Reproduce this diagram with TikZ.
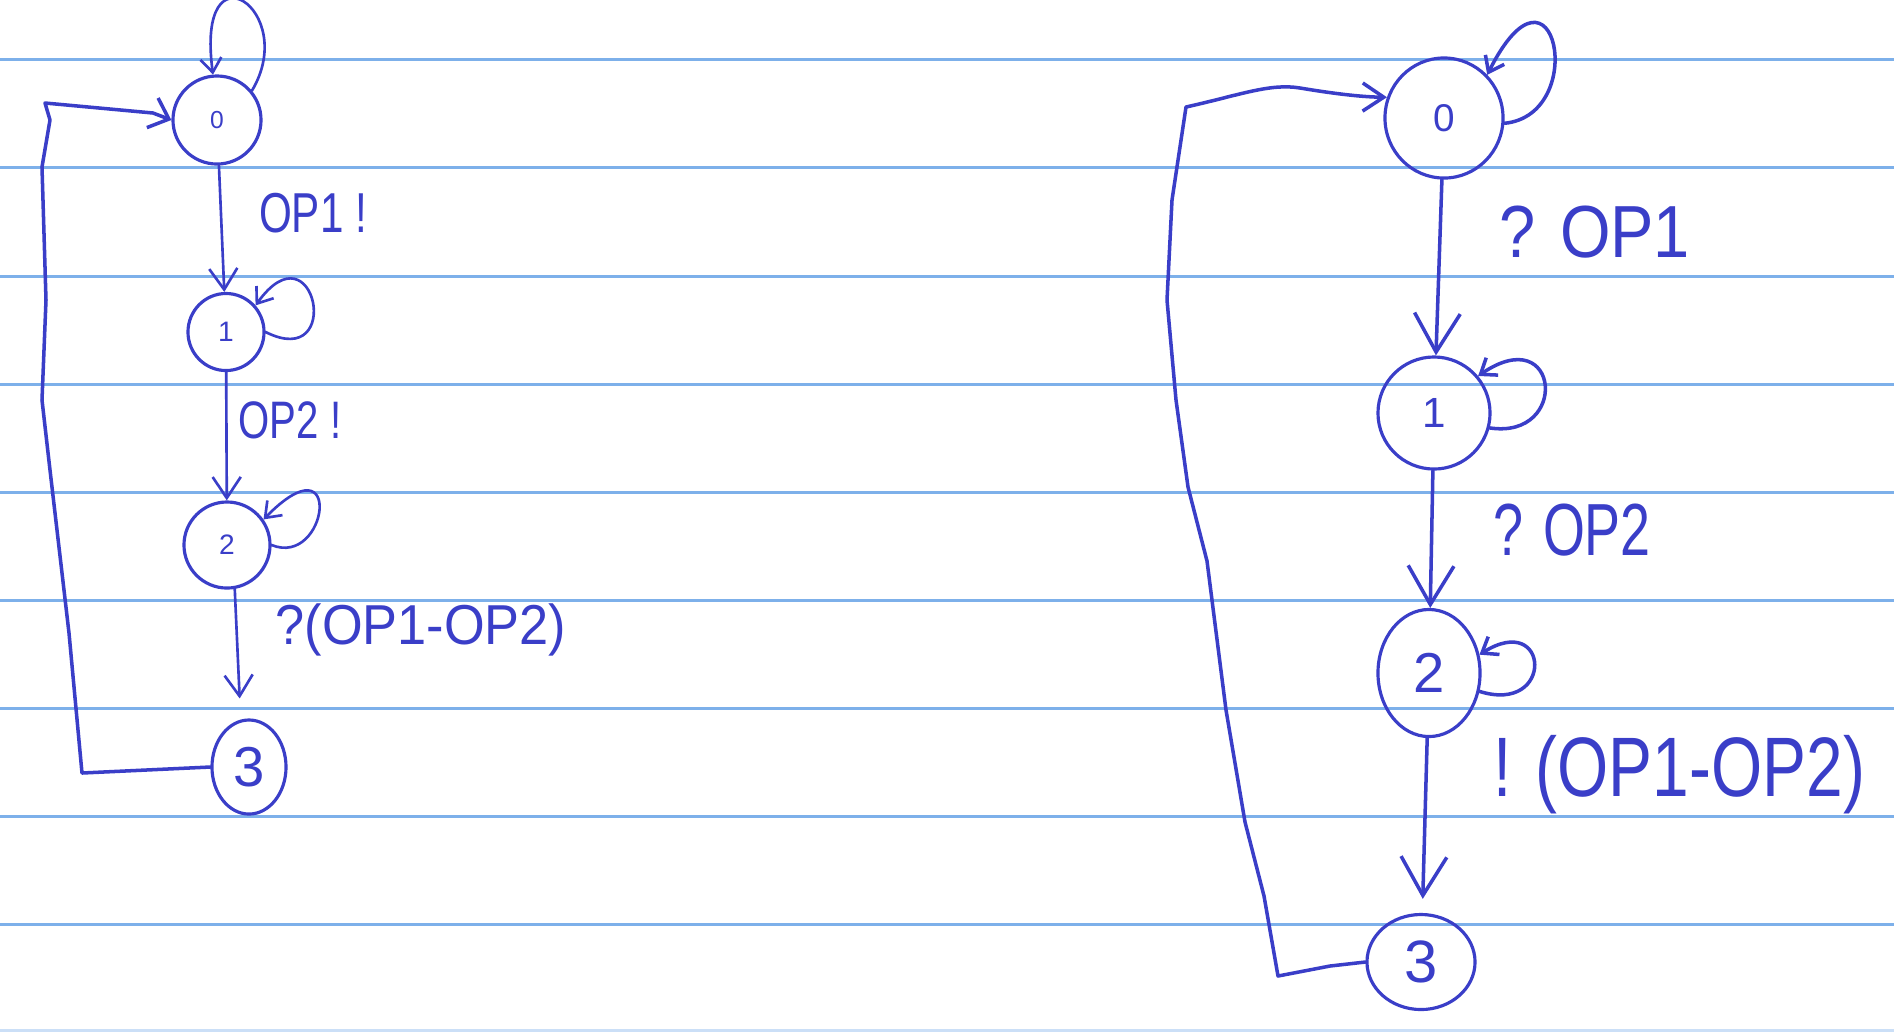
\documentclass[tikz,border=0pt]{standalone}
\usepackage{fontspec}
\setmainfont{Liberation Sans}
\usepackage{graphicx}
\usetikzlibrary{shapes.geometric,arrows.meta}
\definecolor{ink}{RGB}{58,62,200}
\definecolor{rulec}{RGB}{125,176,234}
\newcommand\myfs[1]{\fontsize{#1}{#1}\selectfont}
\begin{document}
\begin{tikzpicture}[x=0.01cm,y=-0.01cm,
  ruleline/.style={draw=rulec,line width=0.85pt},
  st/.style={ellipse,draw=ink,line width=0.9pt,inner sep=0pt,text=ink},
  thin ink/.style={draw=ink,line width=0.75pt,line join=round,line cap=round},
  thick ink/.style={draw=ink,line width=1.0pt,line join=round,line cap=round},
  lbl/.style={text=ink,inner sep=0pt},
  tipS/.style={-{Straight Barb[length=6pt,width=8pt]}},
  tipT/.style={-{Straight Barb[length=4pt,width=6pt]}},
  tipL/.style={-{Straight Barb[length=11pt,width=13pt]}}
]
\fill[white] (0,0) rectangle (1894,1032);
\useasboundingbox (0,0) rectangle (1894,1032);
\foreach \yy in {59,167,276,384,492,600,708,816,924}{\draw[ruleline] (0,\yy) -- (1894,\yy);}
\draw[ruleline,draw=rulec!40] (0,1030) -- (1894,1030);

% ---------- left machine ----------
\node[st,minimum width=0.88cm,minimum height=0.88cm,font=\myfs{7pt}] (l0) at (217,120) {0};
\node[st,minimum width=0.76cm,minimum height=0.77cm,font=\myfs{8pt}] (l1) at (226,332) {1};
\node[st,minimum width=0.86cm,minimum height=0.86cm,font=\myfs{8pt}] (l2) at (227,545) {2};
\node[st,minimum width=0.74cm,minimum height=0.94cm,font=\myfs{16pt}] (l3) at (249,767) {3};

\draw[thin ink,tipS] (l0) -- (l1);
\draw[thin ink,tipS] (l1) -- (l2);
\draw[thin ink,tipS,shorten >=6pt] (l2.-80) -- (l3.100);

\draw[thin ink,tipT] (l0.40) .. controls (300,10) and (195,-60) .. (l0.95);
\draw[thin ink,tipT] (l1.0) .. controls (345,372) and (315,222) .. (l1.42);
\draw[thin ink,tipT] (l2.0) .. controls (328,568) and (345,436) .. (l2.35);

\draw[thick ink,-{Straight Barb[length=5pt,width=9pt]}] (l3.west) -- (82,773) -- (69,633) -- (50,470) -- (42,400) -- (46,300) -- (42,167) -- (50,120) -- (45,103) -- (153,113) -- (l0.west);

\node[lbl] (t1) at (313,213) {\myfs{16pt}\scalebox{0.75}[1]{OP1 !}};
\node[lbl] (t2) at (290,420) {\myfs{15pt}\scalebox{0.76}[1]{OP2 !}};
\node[lbl] (t3) at (421,630) {\myfs{16pt}\scalebox{0.93}[1]{?(OP1-OP2)}};

% ---------- right machine ----------
\node[st,minimum width=1.18cm,minimum height=1.20cm,font=\myfs{11pt}] (r0) at (1444,118) {0};
\node[st,minimum width=1.12cm,minimum height=1.12cm,font=\myfs{12pt}] (r1) at (1434,413) {1};
\node[st,minimum width=1.02cm,minimum height=1.27cm,font=\myfs{16pt}] (r2) at (1429,673) {2};
\node[st,minimum width=1.08cm,minimum height=0.95cm,font=\myfs{17pt}] (r3) at (1421,962) {3};

\draw[thick ink,tipL] (r0) -- (r1);
\draw[thick ink,tipL] (r1) -- (r2);
\draw[thick ink,tipL,shorten >=4pt] (r2) -- (r3);

\draw[thick ink,tipT] (r0.-5) .. controls (1590,115) and (1555,-60) .. (r0.45);
\draw[thick ink,tipT] (r1.-15) .. controls (1570,440) and (1560,320) .. (r1.40);
\draw[thick ink,tipT] (r2.-20) .. controls (1555,715) and (1550,610) .. (r2.20);

\draw[thick ink,-{Straight Barb[length=6pt,width=8pt]}] (r3.west) -- (1330,966) -- (1278,976) -- (1264,896) -- (1245,822) -- (1226,710) -- (1207,561) -- (1188,487) -- (1176,400) -- (1167,300) -- (1172,200) -- (1186,107) .. controls (1240,95) and (1270,83) .. (1300,88) .. controls (1330,93) and (1360,97) .. (r0.160);

\node[lbl] (u1) at (1595,232) {\myfs{21pt}\scalebox{0.88}[1]{? OP1}};
\node[lbl] (u2) at (1572,530) {\myfs{21pt}\scalebox{0.73}[1]{? OP2}};
\node[lbl] (u3) at (1679,775) {\myfs{24pt}\scalebox{0.78}[1]{! (OP1-OP2)}};
\end{tikzpicture}
\end{document}
